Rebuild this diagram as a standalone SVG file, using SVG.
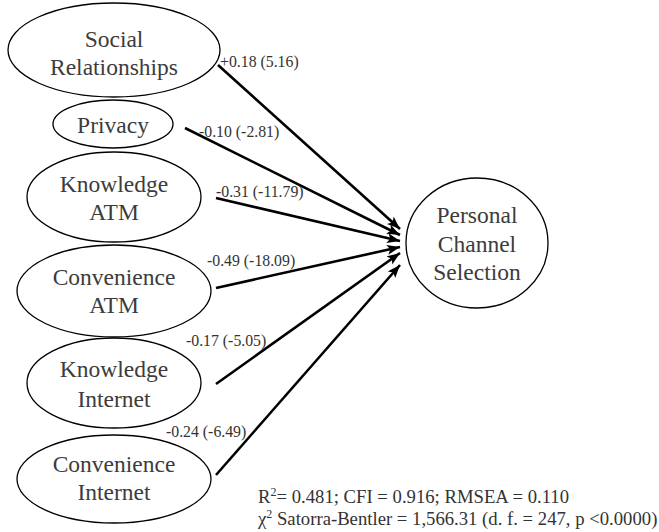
<svg xmlns="http://www.w3.org/2000/svg" width="659" height="532" viewBox="0 0 659 532">
<style>
.n{fill:#fff;stroke:#000;stroke-width:1.3}
.t{font-family:"Liberation Serif","Times New Roman",serif;font-size:23.5px;fill:#3c3c3c;text-anchor:middle}
.l{font-family:"Liberation Serif","Times New Roman",serif;font-size:15.8px;fill:#333}
.s{font-family:"Liberation Serif","Times New Roman",serif;font-size:18.7px;fill:#333}
.e{stroke:#000;stroke-width:2.6;fill:none;marker-end:url(#ah)}
</style>
<defs>
<marker id="ah" markerUnits="userSpaceOnUse" markerWidth="14" markerHeight="12" refX="13" refY="5" orient="auto">
<path d="M0,0 L13,5 L0,10 L3,5 Z" fill="#000"/>
</marker>
</defs>
<rect width="659" height="532" fill="#fff"/>
<g id="connectors">
<line class="e" x1="218" y1="65" x2="400" y2="229"/>
<line class="e" x1="185" y1="128" x2="400" y2="235"/>
<line class="e" x1="216" y1="198" x2="400" y2="241"/>
<line class="e" x1="216" y1="288" x2="400" y2="247"/>
<line class="e" x1="216" y1="384" x2="400" y2="253"/>
<line class="e" x1="216" y1="475" x2="400" y2="265"/>
</g>
<g id="labels">
<text class="l" x="220" y="67">+0.18 (5.16)</text>
<text class="l" x="199" y="137">-0.10 (-2.81)</text>
<text class="l" x="216" y="197">-0.31 (-11.79)</text>
<text class="l" x="207" y="266">-0.49 (-18.09)</text>
<text class="l" x="186" y="346">-0.17 (-5.05)</text>
<text class="l" x="166" y="437">-0.24 (-6.49)</text>
</g>
<g id="social">
<ellipse class="n" cx="114" cy="50" rx="106" ry="47"/>
<text class="t" x="114" y="47">Social</text>
<text class="t" x="114" y="75">Relationships</text>
</g>
<g id="privacy">
<ellipse class="n" cx="113" cy="124" rx="60" ry="24"/>
<text class="t" x="113" y="133">Privacy</text>
</g>
<g id="knowledge-atm">
<ellipse class="n" cx="114" cy="197" rx="87" ry="45"/>
<text class="t" x="114" y="192">Knowledge</text>
<text class="t" x="114" y="220">ATM</text>
</g>
<g id="convenience-atm">
<ellipse class="n" cx="114" cy="291" rx="97" ry="46"/>
<text class="t" x="114" y="285">Convenience</text>
<text class="t" x="114" y="313">ATM</text>
</g>
<g id="knowledge-internet">
<ellipse class="n" cx="114" cy="383" rx="87" ry="45"/>
<text class="t" x="114" y="377">Knowledge</text>
<text class="t" x="114" y="407">Internet</text>
</g>
<g id="convenience-internet">
<ellipse class="n" cx="114" cy="479" rx="97" ry="44"/>
<text class="t" x="114" y="472">Convenience</text>
<text class="t" x="114" y="500">Internet</text>
</g>
<g id="personal">
<ellipse class="n" cx="477" cy="243" rx="71" ry="65"/>
<text class="t" x="477" y="223">Personal</text>
<text class="t" x="477" y="252">Channel</text>
<text class="t" x="477" y="280">Selection</text>
</g>
<g id="stats">
<text class="s" x="258" y="503">R<tspan font-size="12" dy="-7">2</tspan><tspan dy="7">= 0.481; CFI = 0.916; RMSEA = 0.110</tspan></text>
<text class="s" x="258" y="525">χ<tspan font-size="12" dy="-7">2</tspan><tspan dy="7"> Satorra-Bentler = 1,566.31 (d. f. = 247, p &lt;0.0000)</tspan></text>
</g>
</svg>
